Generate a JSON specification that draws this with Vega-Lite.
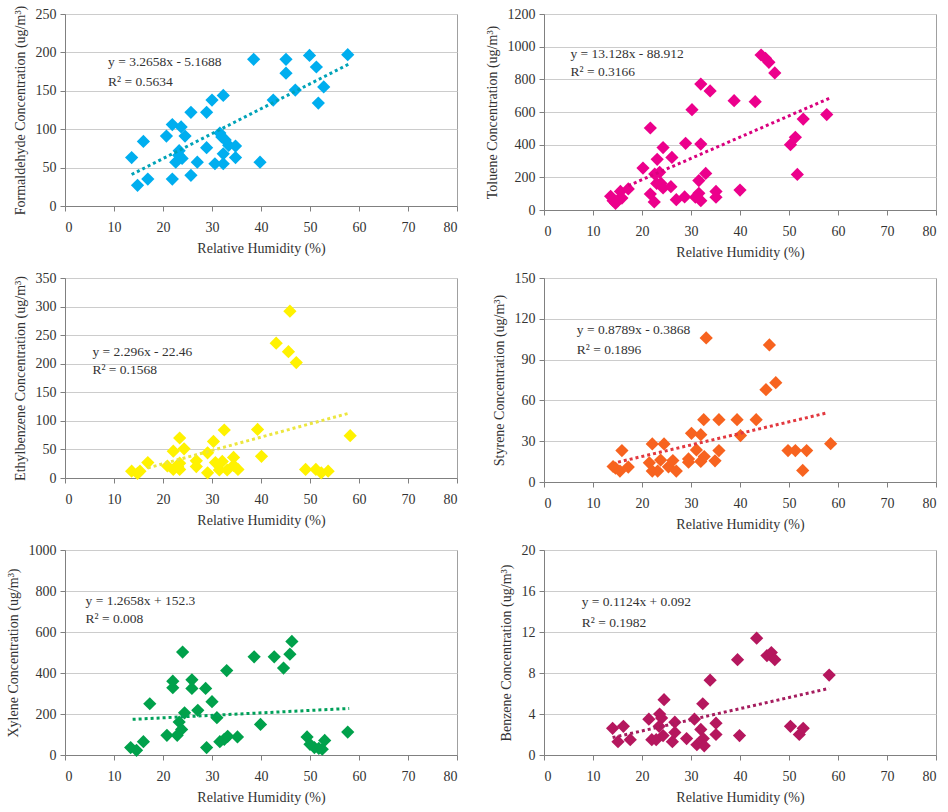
{
  "$schema": "https://vega.github.io/schema/vega-lite/v6.json",
  "padding": {"left": 5, "top": 4, "right": 2, "bottom": 2},
  "columns": 2,
  "spacing": {"row": 10, "column": 26},
  "datasets": {
    "pts": [
      {"panel": "F", "rh": 13.6, "conc": 63}, {"panel": "F", "rh": 16.0, "conc": 84}, {"panel": "F", "rh": 14.8, "conc": 27},
      {"panel": "F", "rh": 16.9, "conc": 35}, {"panel": "F", "rh": 20.7, "conc": 91}, {"panel": "F", "rh": 21.9, "conc": 106},
      {"panel": "F", "rh": 21.9, "conc": 35}, {"panel": "F", "rh": 22.6, "conc": 57}, {"panel": "F", "rh": 23.3, "conc": 72},
      {"panel": "F", "rh": 23.7, "conc": 103}, {"panel": "F", "rh": 24.5, "conc": 91}, {"panel": "F", "rh": 23.2, "conc": 66},
      {"panel": "F", "rh": 23.9, "conc": 62}, {"panel": "F", "rh": 25.7, "conc": 122}, {"panel": "F", "rh": 25.7, "conc": 40},
      {"panel": "F", "rh": 27.0, "conc": 57}, {"panel": "F", "rh": 28.9, "conc": 122}, {"panel": "F", "rh": 28.9, "conc": 76},
      {"panel": "F", "rh": 30.0, "conc": 138}, {"panel": "F", "rh": 30.6, "conc": 55}, {"panel": "F", "rh": 31.6, "conc": 95},
      {"panel": "F", "rh": 32.3, "conc": 144}, {"panel": "F", "rh": 32.3, "conc": 68}, {"panel": "F", "rh": 32.3, "conc": 55},
      {"panel": "F", "rh": 32.7, "conc": 86}, {"panel": "F", "rh": 33.4, "conc": 79}, {"panel": "F", "rh": 34.8, "conc": 78},
      {"panel": "F", "rh": 34.8, "conc": 63}, {"panel": "F", "rh": 38.5, "conc": 191}, {"panel": "F", "rh": 39.8, "conc": 57},
      {"panel": "F", "rh": 42.5, "conc": 138}, {"panel": "F", "rh": 45.1, "conc": 191}, {"panel": "F", "rh": 45.1, "conc": 173},
      {"panel": "F", "rh": 47.0, "conc": 151}, {"panel": "F", "rh": 49.9, "conc": 196}, {"panel": "F", "rh": 51.3, "conc": 181},
      {"panel": "F", "rh": 51.7, "conc": 134}, {"panel": "F", "rh": 52.8, "conc": 155}, {"panel": "F", "rh": 57.7, "conc": 197},
      {"panel": "F", "rh": 32.0, "conc": 90},

      {"panel": "T", "rh": 13.6, "conc": 84}, {"panel": "T", "rh": 14.1, "conc": 57}, {"panel": "T", "rh": 14.6, "conc": 41},
      {"panel": "T", "rh": 15.1, "conc": 61}, {"panel": "T", "rh": 15.6, "conc": 114}, {"panel": "T", "rh": 15.9, "conc": 73},
      {"panel": "T", "rh": 17.2, "conc": 129}, {"panel": "T", "rh": 20.2, "conc": 257}, {"panel": "T", "rh": 21.7, "conc": 502},
      {"panel": "T", "rh": 21.7, "conc": 98}, {"panel": "T", "rh": 22.5, "conc": 49}, {"panel": "T", "rh": 22.6, "conc": 220},
      {"panel": "T", "rh": 23.1, "conc": 310}, {"panel": "T", "rh": 23.0, "conc": 163}, {"panel": "T", "rh": 23.6, "conc": 231},
      {"panel": "T", "rh": 23.9, "conc": 163}, {"panel": "T", "rh": 24.3, "conc": 382}, {"panel": "T", "rh": 24.3, "conc": 135},
      {"panel": "T", "rh": 26.1, "conc": 322}, {"panel": "T", "rh": 25.9, "conc": 143}, {"panel": "T", "rh": 27.0, "conc": 63},
      {"panel": "T", "rh": 28.7, "conc": 80}, {"panel": "T", "rh": 28.9, "conc": 408}, {"panel": "T", "rh": 30.2, "conc": 614},
      {"panel": "T", "rh": 30.9, "conc": 78}, {"panel": "T", "rh": 31.6, "conc": 180}, {"panel": "T", "rh": 31.6, "conc": 102},
      {"panel": "T", "rh": 32.0, "conc": 771}, {"panel": "T", "rh": 32.0, "conc": 404}, {"panel": "T", "rh": 32.0, "conc": 57},
      {"panel": "T", "rh": 33.0, "conc": 224}, {"panel": "T", "rh": 33.9, "conc": 729}, {"panel": "T", "rh": 35.1, "conc": 114},
      {"panel": "T", "rh": 35.1, "conc": 78}, {"panel": "T", "rh": 38.8, "conc": 669}, {"panel": "T", "rh": 40.0, "conc": 122},
      {"panel": "T", "rh": 43.1, "conc": 663}, {"panel": "T", "rh": 44.3, "conc": 949}, {"panel": "T", "rh": 45.2, "conc": 929},
      {"panel": "T", "rh": 45.9, "conc": 904}, {"panel": "T", "rh": 47.1, "conc": 839}, {"panel": "T", "rh": 50.3, "conc": 400},
      {"panel": "T", "rh": 51.3, "conc": 445}, {"panel": "T", "rh": 51.7, "conc": 218}, {"panel": "T", "rh": 52.9, "conc": 557},
      {"panel": "T", "rh": 57.7, "conc": 584},

      {"panel": "E", "rh": 13.6, "conc": 12}, {"panel": "E", "rh": 14.8, "conc": 8}, {"panel": "E", "rh": 15.3, "conc": 12},
      {"panel": "E", "rh": 16.9, "conc": 27}, {"panel": "E", "rh": 20.9, "conc": 21}, {"panel": "E", "rh": 22.1, "conc": 47},
      {"panel": "E", "rh": 22.1, "conc": 15}, {"panel": "E", "rh": 23.0, "conc": 20}, {"panel": "E", "rh": 23.4, "conc": 70},
      {"panel": "E", "rh": 23.4, "conc": 26}, {"panel": "E", "rh": 23.4, "conc": 15}, {"panel": "E", "rh": 24.3, "conc": 51},
      {"panel": "E", "rh": 26.8, "conc": 30}, {"panel": "E", "rh": 26.8, "conc": 20}, {"panel": "E", "rh": 29.1, "conc": 44},
      {"panel": "E", "rh": 29.1, "conc": 9}, {"panel": "E", "rh": 30.3, "conc": 64}, {"panel": "E", "rh": 30.7, "conc": 27},
      {"panel": "E", "rh": 31.5, "conc": 14}, {"panel": "E", "rh": 32.1, "conc": 29}, {"panel": "E", "rh": 32.5, "conc": 84},
      {"panel": "E", "rh": 33.1, "conc": 14}, {"panel": "E", "rh": 34.4, "conc": 36}, {"panel": "E", "rh": 34.4, "conc": 22},
      {"panel": "E", "rh": 35.3, "conc": 15}, {"panel": "E", "rh": 39.3, "conc": 85}, {"panel": "E", "rh": 40.1, "conc": 38},
      {"panel": "E", "rh": 43.1, "conc": 236}, {"panel": "E", "rh": 45.9, "conc": 292}, {"panel": "E", "rh": 45.6, "conc": 221},
      {"panel": "E", "rh": 47.2, "conc": 202}, {"panel": "E", "rh": 49.1, "conc": 15}, {"panel": "E", "rh": 51.2, "conc": 15},
      {"panel": "E", "rh": 52.3, "conc": 9}, {"panel": "E", "rh": 53.7, "conc": 12}, {"panel": "E", "rh": 58.2, "conc": 74},

      {"panel": "S", "rh": 14.1, "conc": 11.4}, {"panel": "S", "rh": 14.6, "conc": 10.2}, {"panel": "S", "rh": 15.5, "conc": 8},
      {"panel": "S", "rh": 15.9, "conc": 23.1}, {"panel": "S", "rh": 17.2, "conc": 11}, {"panel": "S", "rh": 21.5, "conc": 14.1},
      {"panel": "S", "rh": 22.1, "conc": 28}, {"panel": "S", "rh": 22.1, "conc": 8}, {"panel": "S", "rh": 23.2, "conc": 8},
      {"panel": "S", "rh": 23.8, "conc": 16.1}, {"panel": "S", "rh": 24.5, "conc": 28}, {"panel": "S", "rh": 25.4, "conc": 11.2},
      {"panel": "S", "rh": 26.3, "conc": 15.8}, {"panel": "S", "rh": 27.0, "conc": 8}, {"panel": "S", "rh": 29.5, "conc": 17},
      {"panel": "S", "rh": 29.5, "conc": 14.6}, {"panel": "S", "rh": 30.1, "conc": 35.8}, {"panel": "S", "rh": 31.1, "conc": 23.6},
      {"panel": "S", "rh": 32.0, "conc": 34.8}, {"panel": "S", "rh": 32.0, "conc": 15.1}, {"panel": "S", "rh": 32.6, "conc": 45.8},
      {"panel": "S", "rh": 32.7, "conc": 18.7}, {"panel": "S", "rh": 33.1, "conc": 105.9}, {"panel": "S", "rh": 34.9, "conc": 15.6},
      {"panel": "S", "rh": 35.7, "conc": 45.8}, {"panel": "S", "rh": 35.7, "conc": 23.1}, {"panel": "S", "rh": 39.4, "conc": 45.8},
      {"panel": "S", "rh": 40.1, "conc": 34.1}, {"panel": "S", "rh": 43.3, "conc": 45.8}, {"panel": "S", "rh": 45.3, "conc": 67.9},
      {"panel": "S", "rh": 46.0, "conc": 100.8}, {"panel": "S", "rh": 47.3, "conc": 73}, {"panel": "S", "rh": 49.8, "conc": 23.1},
      {"panel": "S", "rh": 51.3, "conc": 23.1}, {"panel": "S", "rh": 52.8, "conc": 8.5}, {"panel": "S", "rh": 53.6, "conc": 23.1},
      {"panel": "S", "rh": 58.5, "conc": 28.2},

      {"panel": "X", "rh": 13.4, "conc": 36}, {"panel": "X", "rh": 14.6, "conc": 23}, {"panel": "X", "rh": 16.0, "conc": 65},
      {"panel": "X", "rh": 17.3, "conc": 250}, {"panel": "X", "rh": 20.8, "conc": 96}, {"panel": "X", "rh": 22.0, "conc": 360},
      {"panel": "X", "rh": 22.0, "conc": 328}, {"panel": "X", "rh": 22.9, "conc": 96}, {"panel": "X", "rh": 23.3, "conc": 161},
      {"panel": "X", "rh": 23.8, "conc": 125}, {"panel": "X", "rh": 24.0, "conc": 502}, {"panel": "X", "rh": 24.4, "conc": 206},
      {"panel": "X", "rh": 25.9, "conc": 367}, {"panel": "X", "rh": 25.9, "conc": 325}, {"panel": "X", "rh": 27.1, "conc": 218},
      {"panel": "X", "rh": 28.7, "conc": 325}, {"panel": "X", "rh": 28.9, "conc": 36}, {"panel": "X", "rh": 30.0, "conc": 260},
      {"panel": "X", "rh": 31.0, "conc": 182}, {"panel": "X", "rh": 31.6, "conc": 65}, {"panel": "X", "rh": 32.5, "conc": 76},
      {"panel": "X", "rh": 33.0, "conc": 412}, {"panel": "X", "rh": 33.2, "conc": 91}, {"panel": "X", "rh": 35.2, "conc": 88},
      {"panel": "X", "rh": 38.6, "conc": 479}, {"panel": "X", "rh": 39.9, "conc": 149}, {"panel": "X", "rh": 42.7, "conc": 479},
      {"panel": "X", "rh": 44.6, "conc": 424}, {"panel": "X", "rh": 45.9, "conc": 492}, {"panel": "X", "rh": 46.3, "conc": 554},
      {"panel": "X", "rh": 49.4, "conc": 88}, {"panel": "X", "rh": 50.0, "conc": 52}, {"panel": "X", "rh": 50.9, "conc": 36},
      {"panel": "X", "rh": 51.8, "conc": 32}, {"panel": "X", "rh": 52.5, "conc": 28}, {"panel": "X", "rh": 53.0, "conc": 71},
      {"panel": "X", "rh": 57.7, "conc": 112},

      {"panel": "B", "rh": 14.0, "conc": 2.6}, {"panel": "B", "rh": 15.1, "conc": 1.3}, {"panel": "B", "rh": 16.2, "conc": 2.8},
      {"panel": "B", "rh": 17.6, "conc": 1.5}, {"panel": "B", "rh": 21.4, "conc": 3.5}, {"panel": "B", "rh": 22.0, "conc": 1.5},
      {"panel": "B", "rh": 22.9, "conc": 1.5}, {"panel": "B", "rh": 23.6, "conc": 4.0}, {"panel": "B", "rh": 24.0, "conc": 3.6},
      {"panel": "B", "rh": 23.5, "conc": 2.8}, {"panel": "B", "rh": 24.3, "conc": 1.9}, {"panel": "B", "rh": 24.5, "conc": 5.4},
      {"panel": "B", "rh": 26.2, "conc": 1.3}, {"panel": "B", "rh": 26.7, "conc": 3.2}, {"panel": "B", "rh": 26.7, "conc": 2.2},
      {"panel": "B", "rh": 29.1, "conc": 1.6}, {"panel": "B", "rh": 30.7, "conc": 3.5}, {"panel": "B", "rh": 31.2, "conc": 1.0},
      {"panel": "B", "rh": 32.0, "conc": 2.5}, {"panel": "B", "rh": 32.4, "conc": 5.0}, {"panel": "B", "rh": 32.5, "conc": 1.6},
      {"panel": "B", "rh": 32.7, "conc": 0.9}, {"panel": "B", "rh": 33.9, "conc": 7.3}, {"panel": "B", "rh": 35.1, "conc": 3.1},
      {"panel": "B", "rh": 35.1, "conc": 2.0}, {"panel": "B", "rh": 39.5, "conc": 9.3}, {"panel": "B", "rh": 39.9, "conc": 1.9},
      {"panel": "B", "rh": 43.4, "conc": 11.4}, {"panel": "B", "rh": 45.5, "conc": 9.7}, {"panel": "B", "rh": 46.4, "conc": 10.0},
      {"panel": "B", "rh": 47.1, "conc": 9.3}, {"panel": "B", "rh": 50.3, "conc": 2.8}, {"panel": "B", "rh": 52.1, "conc": 2.0},
      {"panel": "B", "rh": 52.9, "conc": 2.6}, {"panel": "B", "rh": 58.2, "conc": 7.8}
    ],
    "fit": [
      {"panel": "F", "rh": 13.6, "conc": 41}, {"panel": "F", "rh": 58.0, "conc": 185},
      {"panel": "T", "rh": 17.2, "conc": 149}, {"panel": "T", "rh": 58.7, "conc": 690},
      {"panel": "E", "rh": 16.9, "conc": 17.6}, {"panel": "E", "rh": 58.2, "conc": 114},
      {"panel": "S", "rh": 15.1, "conc": 14.6}, {"panel": "S", "rh": 57.5, "conc": 50.6},
      {"panel": "X", "rh": 13.8, "conc": 174}, {"panel": "X", "rh": 58.0, "conc": 227},
      {"panel": "B", "rh": 14.0, "conc": 1.7}, {"panel": "B", "rh": 58.2, "conc": 6.5}
    ],
    "eq": [
      {"panel": "F", "rh": 8.8, "conc": 187.5, "label": "y = 3.2658x - 5.1688"},
      {"panel": "F", "rh": 8.8, "conc": 162, "label": "R² = 0.5634"},
      {"panel": "T", "rh": 5.4, "conc": 955, "label": "y = 13.128x - 88.912"},
      {"panel": "T", "rh": 5.4, "conc": 847, "label": "R² = 0.3166"},
      {"panel": "E", "rh": 5.6, "conc": 221, "label": "y = 2.296x - 22.46"},
      {"panel": "E", "rh": 5.6, "conc": 189, "label": "R² = 0.1568"},
      {"panel": "S", "rh": 6.7, "conc": 112, "label": "y = 0.8789x - 0.3868"},
      {"panel": "S", "rh": 6.7, "conc": 97.4, "label": "R² = 0.1896"},
      {"panel": "X", "rh": 4.2, "conc": 750, "label": "y = 1.2658x + 152.3"},
      {"panel": "X", "rh": 4.2, "conc": 661, "label": "R² = 0.008"},
      {"panel": "B", "rh": 7.7, "conc": 14.9, "label": "y = 0.1124x + 0.092"},
      {"panel": "B", "rh": 7.7, "conc": 12.9, "label": "R² = 0.1982"}
    ]
  },
  "concat": [
    {
      "width": 392, "height": 192,
      "encoding": {
        "x": {"field": "rh", "type": "quantitative", "title": "Relative Humidity (%)", "scale": {"domain": [0, 80]}, "axis": {"values": [0, 10, 20, 30, 40, 50, 60, 70, 80]}},
        "y": {"field": "conc", "type": "quantitative", "title": "Formaldehyde Concentration (ug/m³)", "scale": {"domain": [0, 250]}, "axis": {"values": [0, 50, 100, 150, 200, 250], "format": "d"}}
      },
      "layer": [
        {"data": {"name": "pts"}, "transform": [{"filter": "datum.panel === 'F'"}], "mark": {"type": "point", "shape": "diamond", "filled": true, "size": 175, "opacity": 1, "color": "#00aeef"}},
        {"data": {"name": "fit"}, "transform": [{"filter": "datum.panel === 'F'"}], "mark": {"type": "line", "strokeDash": [3, 3], "strokeWidth": 3, "color": "#00a3b8"}},
        {"data": {"name": "eq"}, "transform": [{"filter": "datum.panel === 'F'"}], "mark": {"type": "text", "align": "left", "baseline": "middle", "fontSize": 13.5, "color": "#333"}, "encoding": {"text": {"field": "label"}}}
      ]
    },
    {
      "width": 392, "height": 196,
      "encoding": {
        "x": {"field": "rh", "type": "quantitative", "title": "Relative Humidity (%)", "scale": {"domain": [0, 80]}, "axis": {"values": [0, 10, 20, 30, 40, 50, 60, 70, 80]}},
        "y": {"field": "conc", "type": "quantitative", "title": "Toluene Concentration (ug/m³)", "scale": {"domain": [0, 1200]}, "axis": {"values": [0, 200, 400, 600, 800, 1000, 1200], "format": "d"}}
      },
      "layer": [
        {"data": {"name": "pts"}, "transform": [{"filter": "datum.panel === 'T'"}], "mark": {"type": "point", "shape": "diamond", "filled": true, "size": 175, "opacity": 1, "color": "#ec008c"}},
        {"data": {"name": "fit"}, "transform": [{"filter": "datum.panel === 'T'"}], "mark": {"type": "line", "strokeDash": [3, 3], "strokeWidth": 3, "color": "#d9007e"}},
        {"data": {"name": "eq"}, "transform": [{"filter": "datum.panel === 'T'"}], "mark": {"type": "text", "align": "left", "baseline": "middle", "fontSize": 13.5, "color": "#333"}, "encoding": {"text": {"field": "label"}}}
      ]
    },
    {
      "width": 392, "height": 200,
      "encoding": {
        "x": {"field": "rh", "type": "quantitative", "title": "Relative Humidity (%)", "scale": {"domain": [0, 80]}, "axis": {"values": [0, 10, 20, 30, 40, 50, 60, 70, 80]}},
        "y": {"field": "conc", "type": "quantitative", "title": "Ethylbenzene  Concentration (ug/m³)", "scale": {"domain": [0, 350]}, "axis": {"values": [0, 50, 100, 150, 200, 250, 300, 350], "format": "d"}}
      },
      "layer": [
        {"data": {"name": "pts"}, "transform": [{"filter": "datum.panel === 'E'"}], "mark": {"type": "point", "shape": "diamond", "filled": true, "size": 175, "opacity": 1, "color": "#fff200"}},
        {"data": {"name": "fit"}, "transform": [{"filter": "datum.panel === 'E'"}], "mark": {"type": "line", "strokeDash": [3, 3], "strokeWidth": 3, "color": "#ece640"}},
        {"data": {"name": "eq"}, "transform": [{"filter": "datum.panel === 'E'"}], "mark": {"type": "text", "align": "left", "baseline": "middle", "fontSize": 13.5, "color": "#333"}, "encoding": {"text": {"field": "label"}}}
      ]
    },
    {
      "width": 392, "height": 204,
      "encoding": {
        "x": {"field": "rh", "type": "quantitative", "title": "Relative Humidity (%)", "scale": {"domain": [0, 80]}, "axis": {"values": [0, 10, 20, 30, 40, 50, 60, 70, 80]}},
        "y": {"field": "conc", "type": "quantitative", "title": "Styrene Concentration (ug/m³)", "scale": {"domain": [0, 150]}, "axis": {"values": [0, 30, 60, 90, 120, 150], "format": "d"}}
      },
      "layer": [
        {"data": {"name": "pts"}, "transform": [{"filter": "datum.panel === 'S'"}], "mark": {"type": "point", "shape": "diamond", "filled": true, "size": 175, "opacity": 1, "color": "#f7631f"}},
        {"data": {"name": "fit"}, "transform": [{"filter": "datum.panel === 'S'"}], "mark": {"type": "line", "strokeDash": [3, 3], "strokeWidth": 3, "color": "#e2383f"}},
        {"data": {"name": "eq"}, "transform": [{"filter": "datum.panel === 'S'"}], "mark": {"type": "text", "align": "left", "baseline": "middle", "fontSize": 13.5, "color": "#333"}, "encoding": {"text": {"field": "label"}}}
      ]
    },
    {
      "width": 392, "height": 205,
      "encoding": {
        "x": {"field": "rh", "type": "quantitative", "title": "Relative Humidity (%)", "scale": {"domain": [0, 80]}, "axis": {"values": [0, 10, 20, 30, 40, 50, 60, 70, 80]}},
        "y": {"field": "conc", "type": "quantitative", "title": "Xylene Concentration (ug/m³)", "scale": {"domain": [0, 1000]}, "axis": {"values": [0, 200, 400, 600, 800, 1000], "format": "d"}}
      },
      "layer": [
        {"data": {"name": "pts"}, "transform": [{"filter": "datum.panel === 'X'"}], "mark": {"type": "point", "shape": "diamond", "filled": true, "size": 175, "opacity": 1, "color": "#00a14b"}},
        {"data": {"name": "fit"}, "transform": [{"filter": "datum.panel === 'X'"}], "mark": {"type": "line", "strokeDash": [3, 3], "strokeWidth": 3, "color": "#00a05a"}},
        {"data": {"name": "eq"}, "transform": [{"filter": "datum.panel === 'X'"}], "mark": {"type": "text", "align": "left", "baseline": "middle", "fontSize": 13.5, "color": "#333"}, "encoding": {"text": {"field": "label"}}}
      ]
    },
    {
      "width": 392, "height": 205,
      "encoding": {
        "x": {"field": "rh", "type": "quantitative", "title": "Relative Humidity (%)", "scale": {"domain": [0, 80]}, "axis": {"values": [0, 10, 20, 30, 40, 50, 60, 70, 80]}},
        "y": {"field": "conc", "type": "quantitative", "title": "Benzene Concentration (ug/m³)", "scale": {"domain": [0, 20]}, "axis": {"values": [0, 4, 8, 12, 16, 20], "format": "d"}}
      },
      "layer": [
        {"data": {"name": "pts"}, "transform": [{"filter": "datum.panel === 'B'"}], "mark": {"type": "point", "shape": "diamond", "filled": true, "size": 175, "opacity": 1, "color": "#b5175e"}},
        {"data": {"name": "fit"}, "transform": [{"filter": "datum.panel === 'B'"}], "mark": {"type": "line", "strokeDash": [3, 3], "strokeWidth": 3, "color": "#a51c5e"}},
        {"data": {"name": "eq"}, "transform": [{"filter": "datum.panel === 'B'"}], "mark": {"type": "text", "align": "left", "baseline": "middle", "fontSize": 13.5, "color": "#333"}, "encoding": {"text": {"field": "label"}}}
      ]
    }
  ],
  "config": {
    "font": "Liberation Serif",
    "view": {"stroke": "#a0a0a0", "strokeWidth": 1},
    "axis": {
      "labelFont": "Liberation Serif", "titleFont": "Liberation Serif",
      "labelFontSize": 14, "titleFontSize": 14, "titleFontWeight": "normal",
      "labelColor": "#333", "titleColor": "#333",
      "domainColor": "#808080", "tickColor": "#808080", "tickSize": 5,
      "gridColor": "#cccccc"
    },
    "axisX": {"grid": false, "labelPadding": 9, "titlePadding": 7},
    "axisY": {"grid": true, "labelPadding": 4, "titlePadding": 8}
  }
}
